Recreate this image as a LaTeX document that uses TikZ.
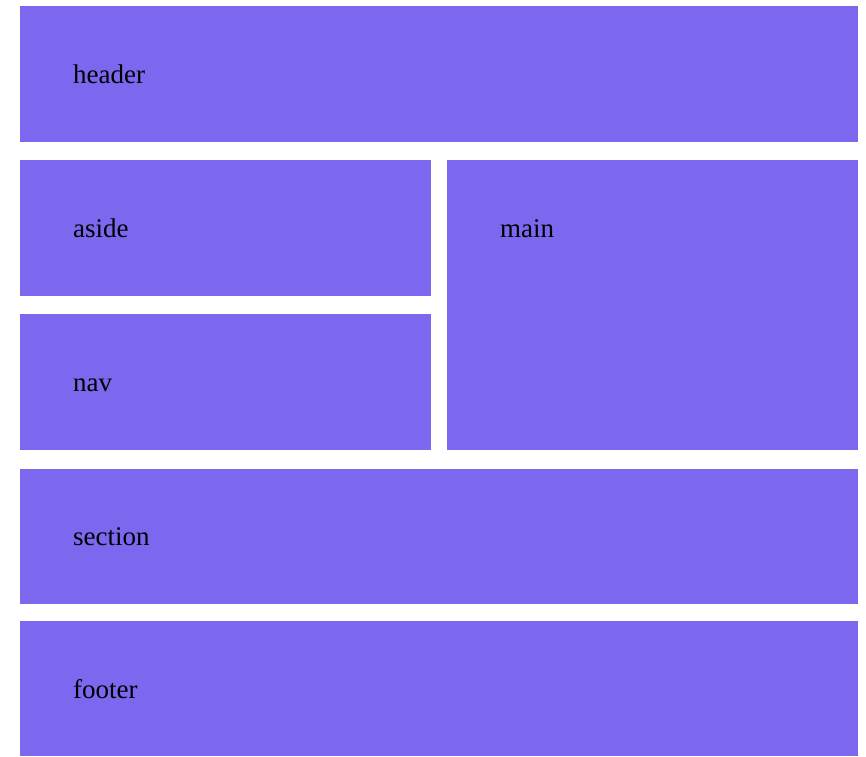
\documentclass[tikz,border=0pt]{standalone}
\usepackage{fontspec}
\setmainfont{Liberation Serif}
\definecolor{boxblue}{HTML}{7B68EE}
\begin{document}
\begin{tikzpicture}[x=1pt,y=-1pt,
  area/.style={fill=boxblue, draw=none, rectangle, anchor=north west, inner sep=0pt, outer sep=0pt},
  lbl/.style={anchor=base west, inner sep=0pt, font=\fontsize{27}{30}\selectfont, text=black}]
\useasboundingbox (0,0) rectangle (866,756);
\fill[white] (0,0) rectangle (866,756);
\node[area, minimum width=838pt, minimum height=135.5pt] (header) at (20,6) {};
\node[area, minimum width=411pt, minimum height=136pt] (aside) at (20,160) {};
\node[area, minimum width=411pt, minimum height=136pt] (nav) at (20,314) {};
\node[area, minimum width=411pt, minimum height=290pt] (main) at (447,160) {};
\node[area, minimum width=838pt, minimum height=135.5pt] (section) at (20,468.5) {};
\node[area, minimum width=838pt, minimum height=135pt] (footer) at (20,621) {};
\node[lbl] (theader) at (73,83) {header};
\node[lbl] (taside) at (73,237) {aside};
\node[lbl] (tnav) at (73,391) {nav};
\node[lbl] (tmain) at (500,237) {main};
\node[lbl] (tsection) at (73,545) {section};
\node[lbl] (tfooter) at (73,698) {footer};
\end{tikzpicture}
\end{document}
